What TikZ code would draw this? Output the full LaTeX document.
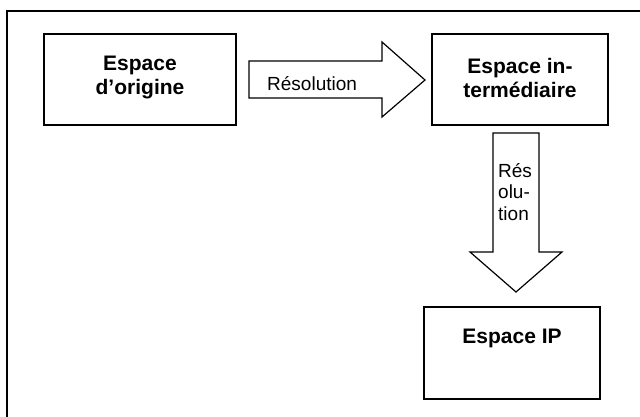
\documentclass[tikz,border=0pt]{standalone}
\usepackage{fontspec}
\setmainfont{Liberation Sans}
\begin{document}
\begin{tikzpicture}[x=1pt,y=-1pt,
  frameline/.style={line width=1.4pt, line cap=rect},
  box/.style={draw, line width=1.4pt, fill=white, inner sep=0pt},
  blockarrow/.style={draw, line width=1.2pt, fill=white, line join=miter},
  boxtext/.style={font=\fontsize{21}{24}\selectfont\bfseries, align=center, inner sep=0pt},
  arrowtext/.style={font=\fontsize{19}{21.5}\selectfont, align=left, inner sep=0pt}]
\useasboundingbox (0,0) rectangle (640,417);
% outer frame (cut by the picture edges on the right and bottom)
\coordinate (fb) at (7,420);
\coordinate (ft) at (7,11);
\coordinate (fr) at (645,11);
\draw[frameline] (fb) -- (ft) -- (fr);
% boxes
\node[box, minimum width=192pt, minimum height=91pt] (orig) at (140,79.5) {};
\node[box, minimum width=176pt, minimum height=91pt] (inter) at (520,79.5) {};
\node[box, minimum width=176pt, minimum height=92pt] (ip) at (512,353) {};
% box texts
\node[boxtext] (t1) at (140,77.5) {Espace\\d’origine};
\node[boxtext] (t2) at (520,77.5) {Espace in-\\termédiaire};
\node[boxtext] (t3) at (512,338) {Espace IP};
% block arrow right
\draw[blockarrow] (249,61) -- (382,61) -- (382,42) -- (425,80) -- (382,117) -- (382,98) -- (249,98) -- cycle;
\node[arrowtext, anchor=base west] (r1) at (267,91) {Résolution};
% block arrow down
\draw[blockarrow] (493,133) -- (539,133) -- (539,252) -- (562,252) -- (516,292) -- (470,252) -- (493,252) -- cycle;
\node[arrowtext, anchor=north west] (r2) at (498,163) {Rés\\olu-\\tion};
\end{tikzpicture}
\end{document}
